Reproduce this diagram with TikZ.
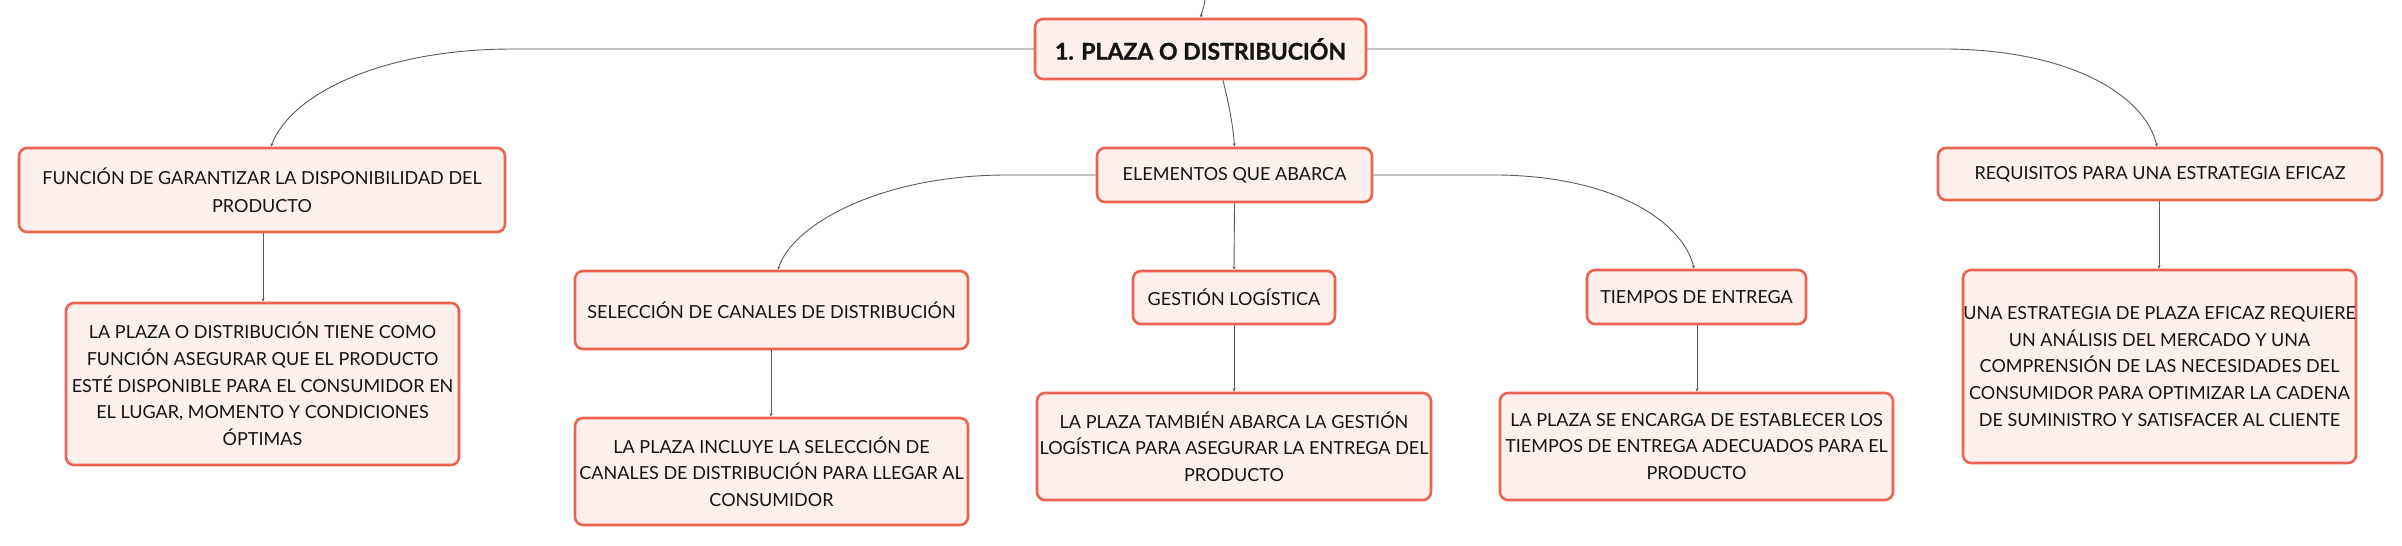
\documentclass[tikz,border=0pt]{standalone}
\usepackage{fontspec}
\setmainfont{Lato}
\newfontfamily\heavyfont{Lato}[BoldFeatures={FakeBold=1.2}]
\usetikzlibrary{arrows.meta}
\definecolor{bord}{HTML}{EA6450}
\definecolor{boxfill}{HTML}{FDF0EC}
\definecolor{connc}{HTML}{5C5C5C}
\definecolor{txt}{HTML}{141414}
\tikzset{
  box/.style={draw=bord, fill=boxfill, line width=2.6pt, rounded corners=8pt, inner sep=0pt,
    text=txt, font=\fontsize{18}{26.7}\selectfont, align=center},
  conn/.style={draw=connc, line width=0.9pt, -{Stealth[length=3.5pt,width=3pt]}},
}
\begin{document}
\begin{tikzpicture}[x=1pt,y=-1pt]
\useasboundingbox[fill=white] (0,0) rectangle (2402,546);

% nodes
\node[box, minimum width=331pt, minimum height=60pt, font=\heavyfont\fontsize{23}{27}\selectfont\bfseries] (root) at (1200.5,49) {1. PLAZA O DISTRIBUCIÓN};

\node[box, minimum width=486pt, minimum height=84pt, font=\fontsize{18}{28}\selectfont] (fun) at (262,190) {FUNCIÓN DE GARANTIZAR LA DISPONIBILIDAD DEL\\PRODUCTO};
\node[box, minimum width=393pt, minimum height=162pt] (funC) at (262.5,384) {LA PLAZA O DISTRIBUCIÓN TIENE COMO\\FUNCIÓN ASEGURAR QUE EL PRODUCTO\\ESTÉ DISPONIBLE PARA EL CONSUMIDOR EN\\EL LUGAR, MOMENTO Y CONDICIONES\\ÓPTIMAS};

\node[box, minimum width=275pt, minimum height=54pt] (elem) at (1234.5,175) {ELEMENTOS QUE ABARCA};

\node[box, minimum width=393pt, minimum height=78pt] (sel) at (771.5,310) {SELECCIÓN DE CANALES DE DISTRIBUCIÓN};
\node[box, minimum width=393pt, minimum height=107pt] (selC) at (771.5,471.5) {LA PLAZA INCLUYE LA SELECCIÓN DE\\CANALES DE DISTRIBUCIÓN PARA LLEGAR AL\\CONSUMIDOR};

\node[box, minimum width=202pt, minimum height=53pt] (ges) at (1234,297.5) {GESTIÓN LOGÍSTICA};
\node[box, minimum width=394pt, minimum height=107pt] (gesC) at (1234,446.5) {LA PLAZA TAMBIÉN ABARCA LA GESTIÓN\\LOGÍSTICA PARA ASEGURAR LA ENTREGA DEL\\PRODUCTO};

\node[box, minimum width=219pt, minimum height=54pt] (tie) at (1696.5,297) {TIEMPOS DE ENTREGA};
\node[box, minimum width=393pt, minimum height=107pt] (tieC) at (1696.5,446.5) {LA PLAZA SE ENCARGA DE ESTABLECER LOS\\TIEMPOS DE ENTREGA ADECUADOS PARA EL\\PRODUCTO};

\node[box, minimum width=444pt, minimum height=52pt] (req) at (2160,174) {REQUISITOS PARA UNA ESTRATEGIA EFICAZ};
\node[box, minimum width=393pt, minimum height=193pt] (reqC) at (2159.5,366.5) {UNA ESTRATEGIA DE PLAZA EFICAZ REQUIERE\\UN ANÁLISIS DEL MERCADO Y UNA\\COMPRENSIÓN DE LAS NECESIDADES DEL\\CONSUMIDOR PARA OPTIMIZAR LA CADENA\\DE SUMINISTRO Y SATISFACER AL CLIENTE};

% connectors
\coordinate (up) at (1205,0);
\draw[conn] (up) .. controls (1204,8) and (1201.5,12) .. ([xshift=0.5pt]root.north);

\draw[conn] ([xshift=22.5pt]root.south) .. controls (1229,105) and (1233,125) .. (elem.north);

\draw[conn] (root.west) -- (513,49) .. controls (380,49) and (290,95) .. ([xshift=9pt]fun.north);
\draw[conn] (root.east) -- (1947,49) .. controls (2070,50) and (2145,95) .. ([xshift=-3pt]req.north);

\draw[conn] (elem.west) -- (1007,175) .. controls (880,175) and (792,225) .. ([xshift=6.5pt]sel.north);
\draw[conn] (elem.east) -- (1500,175) .. controls (1620,177) and (1684,225) .. ([xshift=-2.5pt]tie.north);
\draw[conn] (elem.south) -- (ges.north);

\draw[conn] ([xshift=1pt]fun.south) -- ([xshift=0.5pt]funC.north);
\draw[conn] ([xshift=-0.5pt]sel.south) -- ([xshift=-0.5pt]selC.north);
\draw[conn] (ges.south) -- (gesC.north);
\draw[conn] ([xshift=0.5pt]tie.south) -- ([xshift=0.5pt]tieC.north);
\draw[conn] ([xshift=-1pt]req.south) -- ([xshift=-0.5pt]reqC.north);
\end{tikzpicture}
\end{document}
